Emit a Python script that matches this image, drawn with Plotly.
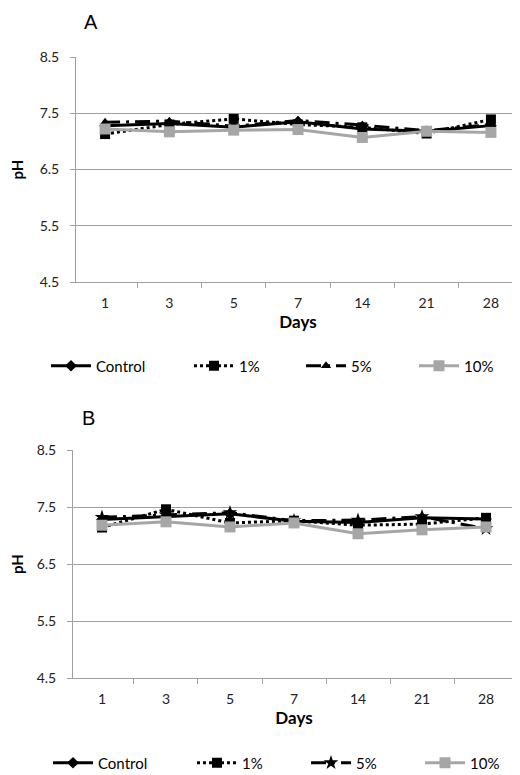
import plotly.graph_objects as go

days = ['1', '3', '5', '7', '14', '21', '28']
series_names = ['Control', '1%', '5%', '10%']

a_control = [7.28, 7.32, 7.25, 7.35, 7.22, 7.18, 7.28]
a_1 = [7.13, 7.30, 7.40, 7.30, 7.25, 7.14, 7.39]
a_5 = [7.34, 7.36, 7.27, 7.37, 7.29, 7.19, 7.30]
a_10 = [7.22, 7.17, 7.20, 7.21, 7.07, 7.18, 7.16]

b_control = [7.28, 7.33, 7.38, 7.25, 7.23, 7.31, 7.29]
b_1 = [7.14, 7.46, 7.22, 7.26, 7.18, 7.20, 7.31]
b_5 = [7.32, 7.36, 7.40, 7.26, 7.27, 7.33, 7.12]
b_10 = [7.18, 7.24, 7.15, 7.22, 7.03, 7.10, 7.15]

y_ticks = [4.5, 5.5, 6.5, 7.5, 8.5]

BLACK = '#000000'
GRAY = '#A6A6A6'
FONT = 'Lato'

styles = {
    'Control': dict(color=BLACK, dash='solid', width=3),
    '1%': dict(color=BLACK, dash='dot', width=3),
    '5%': dict(color=BLACK, dash='longdashdot', width=3),
    '10%': dict(color=GRAY, dash='solid', width=3),
}
markers_a = {'Control': ('diamond', 9), '1%': ('square', 10), '5%': ('triangle-up', 9), '10%': ('square', 11)}
markers_b = {'Control': ('diamond', 9), '1%': ('square', 10), '5%': ('star', 11), '10%': ('square', 11)}

# The page body has an 8px margin: lay the figure out in window pixels shifted by 8.
OFF = 8
W = 520.0 - OFF
H = 775.0 - OFF

def px(x):
    return (x - OFF) / W

def py(y):
    return 1 - (y - OFF) / H

legend_x_a = {'Control': 46, '1%': 189, '5%': 301, '10%': 414}
legend_x_b = {'Control': 48, '1%': 192, '5%': 306, '10%': 420}

fig = go.Figure()

data_a = dict(zip(series_names, [a_control, a_1, a_5, a_10]))
data_b = dict(zip(series_names, [b_control, b_1, b_5, b_10]))

for i, name in enumerate(series_names):
    st = styles[name]
    sym, sz = markers_a[name]
    fig.add_trace(go.Scatter(
        x=days, y=data_a[name], name=name, mode='lines+markers',
        line=dict(color=st['color'], dash=st['dash'], width=st['width']),
        marker=dict(symbol=sym, size=sz, color=st['color']),
        xaxis='x', yaxis='y', legend=f'legend{i + 2}', showlegend=True))
for i, name in enumerate(series_names):
    st = styles[name]
    sym, sz = markers_b[name]
    fig.add_trace(go.Scatter(
        x=days, y=data_b[name], name=name, mode='lines+markers',
        line=dict(color=st['color'], dash=st['dash'], width=st['width']),
        marker=dict(symbol=sym, size=sz, color=st['color']),
        xaxis='x2', yaxis='y2', legend=f'legend{i + 6}', showlegend=True))

axis_common_y = dict(
    range=[4.5, 8.5], tickvals=y_ticks, ticktext=[f'{v:.1f}' for v in y_ticks],
    showgrid=True, gridcolor='#A0A0A0', gridwidth=1,
    showline=True, linecolor='#A0A0A0', linewidth=1,
    ticks='outside', ticklen=5, tickcolor='#A0A0A0',
    tickfont=dict(family=FONT, size=14, color='#222222'),
    ticklabelstandoff=8, zeroline=False, automargin=False,
    title=dict(text='<b>pH</b>', font=dict(family=FONT, size=15, color='#000000'), standoff=14),
)
axis_common_x = dict(
    type='category', categoryorder='array', categoryarray=days,
    showgrid=False, showline=True, linecolor='#A0A0A0', linewidth=1,
    ticks='outside', ticklen=5, tickcolor='#A0A0A0', tickson='boundaries',
    tickfont=dict(family=FONT, size=14, color='#222222'),
    ticklabelstandoff=8, zeroline=False, automargin=False,
    title=dict(text='<b>Days</b>', font=dict(family=FONT, size=17, color='#000000'), standoff=2),
)

legend_common = dict(orientation='h', xanchor='left', yanchor='middle',
                     font=dict(family=FONT, size=15), bgcolor='rgba(0,0,0,0)',
                     tracegroupgap=0, itemwidth=40, visible=True)

layout_legends = {}
for i, name in enumerate(series_names):
    layout_legends[f'legend{i + 2}'] = dict(legend_common, x=px(legend_x_a[name]), y=py(366))
    layout_legends[f'legend{i + 6}'] = dict(legend_common, x=px(legend_x_b[name]), y=py(763))

fig.update_layout(
    width=int(W), height=int(H),
    margin=dict(l=0, r=0, t=0, b=0, autoexpand=False),
    paper_bgcolor='white', plot_bgcolor='white',
    showlegend=True,
    font=dict(family=FONT, size=13, color='#000000'),
    xaxis=dict(axis_common_x, domain=[px(76), 1.0], anchor='y'),
    yaxis=dict(axis_common_y, domain=[py(282), py(57)], anchor='x'),
    xaxis2=dict(axis_common_x, domain=[px(73), px(515)], anchor='y2'),
    yaxis2=dict(axis_common_y, domain=[py(678), py(450)], anchor='x2'),
    annotations=[
        dict(text='A', x=px(82), y=py(22), xref='paper', yref='paper', xanchor='left',
             yanchor='middle', showarrow=False, font=dict(family='Liberation Sans', size=20)),
        dict(text='B', x=px(80), y=py(418), xref='paper', yref='paper', xanchor='left',
             yanchor='middle', showarrow=False, font=dict(family='Liberation Sans', size=20)),
    ],
    **layout_legends,
)

fig.write_html('out.html')
